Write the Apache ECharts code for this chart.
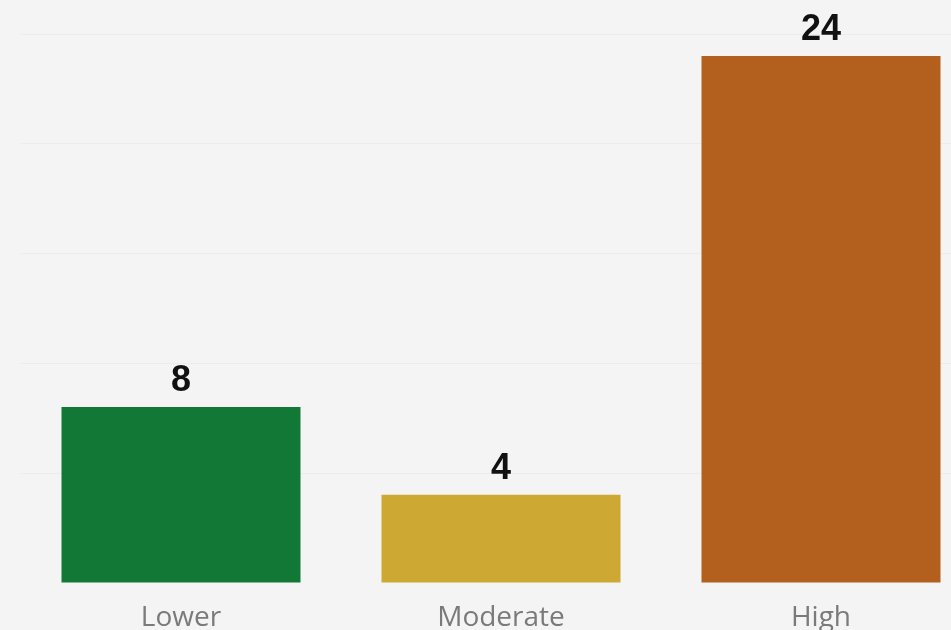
<!DOCTYPE html>
<html>
<head>
<meta charset="utf-8">
<script src="https://cdn.jsdelivr.net/npm/echarts@6/dist/echarts.min.js"></script>
<style>
  html, body { margin: 0; padding: 0; background: #f4f4f4; overflow: hidden; }
  #chart-container { width: 981px; height: 630px; }
</style>
</head>
<body>
<div id="chart-container"></div>
<script>
// risk levels and their counts
const categories = ['Lower', 'Moderate', 'High'];
const counts = [8, 4, 24];
const barColors = ['#117835', '#cda832', '#b35f1e'];

const chartDom = document.getElementById('chart-container');
const myChart = echarts.init(chartDom);

const option = {
    backgroundColor: '#f4f4f4',
    animation: false,
    grid: {
        left: 21,
        top: 34,
        right: 0,
        bottom: 47.5,
        outerBoundsMode: 'none'
    },
    xAxis: {
        type: 'category',
        data: categories,
        axisLine: { show: false },
        axisTick: { show: false },
        axisLabel: {
            color: '#7a7a7a',
            fontSize: 28,
            fontFamily: 'Open Sans',
            margin: 22
        }
    },
    yAxis: {
        type: 'value',
        min: 0,
        max: 25,
        interval: 5,
        axisLabel: { show: false },
        axisLine: { show: false },
        axisTick: { show: false },
        splitLine: { showMinLine: false, lineStyle: { color: '#ececec', width: 1 } }
    },
    series: [{
        type: 'bar',
        barWidth: 239,
        data: counts.map((v, i) => ({ value: v, itemStyle: { color: barColors[i] } })),
        label: {
            show: true,
            position: 'top',
            distance: 8,
            color: '#111111',
            fontSize: 36,
            fontWeight: 'bold',
            fontFamily: 'Liberation Sans'
        }
    }]
};

myChart.setOption(option);
</script>
</body>
</html>
